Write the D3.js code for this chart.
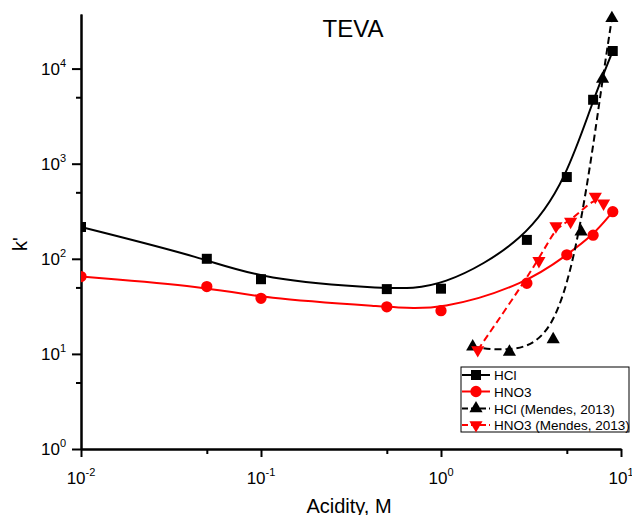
<!DOCTYPE html>
<html>
<head>
<meta charset="utf-8">
<script src="https://cdn.jsdelivr.net/npm/d3@7"></script>
<style>
  html, body { margin: 0; padding: 0; background: #fff; }
  svg { display: block; font-family: "Liberation Sans", Arial, sans-serif; }
</style>
</head>
<body>
<svg id="chart" width="632" height="515"></svg>
<script>
// ---- data ----
const hclX = [0.01, 0.05, 0.1, 0.5, 1, 3, 5, 7, 9];
const hclY = [216, 100, 61, 48, 48.5, 158, 724, 4700, 15300];

const hno3X = [0.01, 0.05, 0.1, 0.5, 1, 3, 5, 7, 9];
const hno3Y = [65, 51, 38.4, 31.3, 28.5, 55.3, 110, 177, 313];

const hclMendesX = [1.5, 2.4, 4.2, 6.0, 7.9, 8.9];
const hclMendesY = [11.9, 10.5, 14.2, 193, 7780, 33800];

const hno3MendesX = [1.6, 3.5, 4.35, 5.25, 7.2, 8.0];
const hno3MendesY = [11, 95, 221, 246, 450, 383];

const xMajorTicks = [0.01, 0.1, 1, 10];
const xMinorTicks = [0.05, 0.5, 5];
const xTickExps = ["-2", "-1", "0", "1"];
const yMajorTicks = [1, 10, 100, 1000, 10000];
const yMinorTicks = [5, 50, 500, 5000];
const yTickExps = ["0", "1", "2", "3", "4"];

const seriesNames = ["HCl", "HNO3", "HCl (Mendes, 2013)", "HNO3 (Mendes, 2013)"];
const titleText = "TEVA";
const xLabel = "Acidity, M";
const yLabel = "k'";

// ---- drawing ----
const svg = d3.select("#chart");
const x = d3.scaleLog().domain([0.01, 10]).range([81, 621]);
const y = d3.scaleLog().domain([1, 37500]).range([449, 14]);

svg.append("defs").append("clipPath").attr("id", "clip")
  .append("rect").attr("x", 81).attr("y", 0).attr("width", 560).attr("height", 449);

// axes
function styleAxis(g) {
  g.selectAll("path.domain").attr("stroke", "#000").attr("stroke-width", 2);
  g.selectAll(".tick line").attr("stroke", "#000").attr("stroke-width", 2);
  g.selectAll(".tick text").remove();
}
svg.append("g").attr("transform", "translate(0,449)")
  .call(d3.axisBottom(x).tickValues(xMajorTicks).tickSize(8).tickSizeOuter(0).tickFormat(""))
  .call(styleAxis);
svg.append("g").attr("transform", "translate(0,449)")
  .call(d3.axisBottom(x).tickValues(xMinorTicks).tickSize(5).tickSizeOuter(0).tickFormat(""))
  .call(styleAxis);
svg.append("g").attr("transform", "translate(81,0)")
  .call(d3.axisLeft(y).tickValues(yMajorTicks).tickSize(9).tickSizeOuter(0).tickFormat(""))
  .call(styleAxis);
svg.append("g").attr("transform", "translate(81,0)")
  .call(d3.axisLeft(y).tickValues(yMinorTicks).tickSize(5).tickSizeOuter(0).tickFormat(""))
  .call(styleAxis);

// tick labels
xMajorTicks.forEach((v, i) => {
  const t = svg.append("text").attr("x", x(v)).attr("y", 484)
    .attr("text-anchor", "middle").attr("font-size", 17).attr("fill", "#000");
  t.append("tspan").text("10");
  t.append("tspan").attr("font-size", 11).attr("dy", -8).text(xTickExps[i]);
});
yMajorTicks.forEach((v, i) => {
  const t = svg.append("text").attr("x", 66).attr("y", y(v) + 6)
    .attr("text-anchor", "end").attr("font-size", 17).attr("fill", "#000");
  t.append("tspan").text("10");
  t.append("tspan").attr("font-size", 11).attr("dy", -8).text(yTickExps[i]);
});

// titles
svg.append("text").attr("x", 353).attr("y", 37).attr("text-anchor", "middle")
  .attr("font-size", 24).text(titleText);
svg.append("text").attr("x", 349).attr("y", 513).attr("text-anchor", "middle")
  .attr("font-size", 20).text(xLabel);
svg.append("text").attr("transform", "translate(27,244) rotate(-90)")
  .attr("text-anchor", "middle").attr("font-size", 20).text(yLabel);

// series
const series = [
  { xs: hclX, ys: hclY, color: "#000", dash: null, sym: d3.symbolSquare, size: 100, rot: 0 },
  { xs: hno3X, ys: hno3Y, color: "#ff0000", dash: null, sym: d3.symbolCircle, size: 100, rot: 0 },
  { xs: hclMendesX, ys: hclMendesY, color: "#000", dash: "7,4", sym: d3.symbolTriangle, size: 75, rot: 0 },
  { xs: hno3MendesX, ys: hno3MendesY, color: "#ff0000", dash: "7,4", sym: d3.symbolTriangle, size: 75, rot: 180 }
];

const plot = svg.append("g").attr("clip-path", "url(#clip)");
const line = d3.line().x(d => x(d[0])).y(d => y(d[1])).curve(d3.curveBasis);

series.forEach(s => {
  const pts = s.xs.map((v, i) => [v, s.ys[i]]);
  plot.append("path").datum(pts).attr("d", line)
    .attr("fill", "none").attr("stroke", s.color).attr("stroke-width", 2)
    .attr("stroke-dasharray", s.dash);
});
series.forEach(s => {
  const pts = s.xs.map((v, i) => [v, s.ys[i]]);
  plot.selectAll(null).data(pts).enter().append("path")
    .attr("d", d3.symbol().type(s.sym).size(s.size))
    .attr("transform", d => `translate(${x(d[0])},${y(d[1])}) rotate(${s.rot})`)
    .attr("fill", s.color);
});

// legend
const lg = svg.append("g");
lg.append("rect").attr("x", 461).attr("y", 367).attr("width", 168).attr("height", 65)
  .attr("fill", "#fff").attr("stroke", "#000").attr("stroke-width", 1);
const rowY = [375, 391.5, 408.5, 425];
series.forEach((s, i) => {
  lg.append("line").attr("x1", 462).attr("x2", 490).attr("y1", rowY[i]).attr("y2", rowY[i])
    .attr("stroke", s.color).attr("stroke-width", 2).attr("stroke-dasharray", s.dash ? "6,3" : null);
  lg.append("path").attr("d", d3.symbol().type(s.sym).size(s.size)())
    .attr("transform", `translate(476,${rowY[i]}) rotate(${s.rot})`).attr("fill", s.color);
  lg.append("text").attr("x", 494).attr("y", rowY[i] + 5).attr("font-size", 13.5)
    .text(seriesNames[i]);
});
</script>
</body>
</html>
